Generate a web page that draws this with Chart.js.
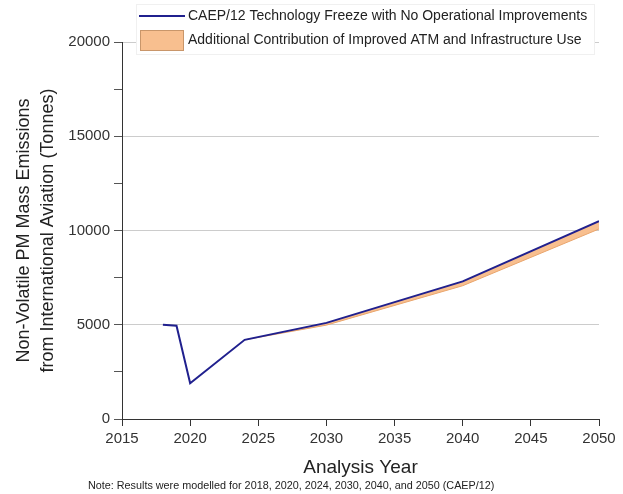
<!DOCTYPE html>
<html>
<head>
<meta charset="utf-8">
<script src="https://cdn.jsdelivr.net/npm/chart.js@4/dist/chart.umd.min.js"></script>
<style>
  html, body { margin: 0; padding: 0; background: #fff; }
  #wrap { width: 623px; height: 494px; }
</style>
</head>
<body>
<div id="wrap"><canvas id="c" width="623" height="494"></canvas></div>
<script>
// ---- data ----
const years = [2018, 2019, 2020, 2024, 2030, 2040, 2050];
const freezeValues = [5000, 4950, 1900, 4200, 5100, 7300, 10500];
const bandYears = [2024, 2030, 2040, 2050];
const atmValues = [4200, 4980, 7070, 10080];
const xTicks = [2015, 2020, 2025, 2030, 2035, 2040, 2045, 2050];
const seriesLabels = [
  'CAEP/12 Technology Freeze with No Operational Improvements',
  'Additional Contribution of Improved ATM and Infrastructure Use'
];
const yTitle = ['Non-Volatile PM Mass Emissions', 'from International Aviation (Tonnes)'];
const xTitle = 'Analysis Year';
const noteText = 'Note: Results were modelled for 2018, 2020, 2024, 2030, 2040, and 2050 (CAEP/12)';

const LINE = '#20208e';
const BAND = '#f8bf8f';
const BAND_EDGE = '#e9a66e';
const FONT = "'Liberation Sans', Arial, sans-serif";

const freezePts = years.map((y, i) => ({x: y, y: freezeValues[i]}));
const lowerPts = bandYears.map((y, i) => ({x: y, y: atmValues[i]}));
const upperPts = bandYears.map(y => ({x: y, y: freezeValues[years.indexOf(y)]}));

const legendPlugin = {
  id: 'customLegend',
  afterDraw(chart) {
    const ctx = chart.ctx;
    ctx.save();
    ctx.fillStyle = '#ffffff';
    ctx.strokeStyle = '#f0f0f0';
    ctx.lineWidth = 1;
    ctx.fillRect(136, 4, 458, 50);
    ctx.strokeRect(136.5, 4.5, 458, 50);
    // item 1: line
    ctx.strokeStyle = LINE;
    ctx.lineWidth = 2;
    ctx.beginPath();
    ctx.moveTo(139, 16);
    ctx.lineTo(185, 16);
    ctx.stroke();
    // item 2: box
    ctx.fillStyle = BAND;
    ctx.fillRect(140, 30, 43, 20);
    ctx.strokeStyle = '#c9966a';
    ctx.lineWidth = 1;
    ctx.strokeRect(140.5, 30.5, 43, 20);
    ctx.fillStyle = '#222';
    ctx.font = '14px ' + FONT;
    ctx.textBaseline = 'middle';
    ctx.textAlign = 'left';
    ctx.fillText(seriesLabels[0], 188, 16);
    ctx.fillText(seriesLabels[1], 188, 40);
    // note
    ctx.font = '10.8px ' + FONT;
    ctx.fillStyle = '#222';
    ctx.fillText(noteText, 88, 486);
    ctx.restore();
  }
};

new Chart(document.getElementById('c'), {
  type: 'line',
  data: {
    datasets: [
      {
        label: seriesLabels[0],
        data: freezePts,
        borderColor: LINE,
        borderWidth: 2,
        pointRadius: 0,
        tension: 0,
        fill: false,
        order: 0
      },
      {
        label: seriesLabels[1],
        data: lowerPts,
        borderColor: BAND_EDGE,
        borderWidth: 1,
        backgroundColor: BAND,
        pointRadius: 0,
        tension: 0,
        fill: '+1',
        order: 2
      },
      {
        label: 'upper',
        data: upperPts,
        borderWidth: 0,
        borderColor: 'transparent',
        pointRadius: 0,
        tension: 0,
        fill: false,
        order: 3
      }
    ]
  },
  options: {
    responsive: false,
    animation: false,
    devicePixelRatio: 1,
    layout: { padding: { top: 42, right: 24, bottom: 0, left: 0 } },
    plugins: { legend: { display: false }, tooltip: { enabled: false } },
    scales: {
      x: {
        type: 'linear',
        min: 2015, max: 2050,
        afterBuildTicks(scale) { scale.ticks = xTicks.map(v => ({value: v})); },
        afterFit(scale) { scale.height = 75; },
        grid: { drawOnChartArea: false, tickLength: 7, tickColor: '#333', tickWidth: 1 },
        border: { color: '#333', width: 1 },
        ticks: {
          padding: 4,
          color: '#333',
          font: { family: FONT, size: 15 },
          maxRotation: 0,
          autoSkip: false,
          callback: v => String(v)
        },
        title: {
          display: true,
          text: xTitle,
          color: '#222',
          font: { family: FONT, size: 19 },
          padding: { top: 0, bottom: 15 }
        }
      },
      y: {
        min: 0, max: 20000,
        afterFit(scale) { scale.width = 122; },
        grid: {
          color: ctx => (ctx.tick && ctx.tick.value % 5000 === 0 && ctx.tick.value !== 0) ? '#cccccc' : 'rgba(0,0,0,0)',
          tickColor: '#555',
          tickLength: 8,
          lineWidth: 1
        },
        border: { color: '#333', width: 1 },
        ticks: {
          stepSize: 2500,
          autoSkip: false,
          padding: 4,
          color: '#333',
          font: { family: FONT, size: 15 },
          callback: v => (v % 5000 === 0 ? String(v) : '')
        },
        title: {
          display: true,
          text: yTitle,
          color: '#222',
          font: { family: FONT, size: 18, lineHeight: 1.35 },
          padding: { top: 12, bottom: 0 }
        }
      }
    }
  },
  plugins: [legendPlugin]
});
</script>
</body>
</html>
